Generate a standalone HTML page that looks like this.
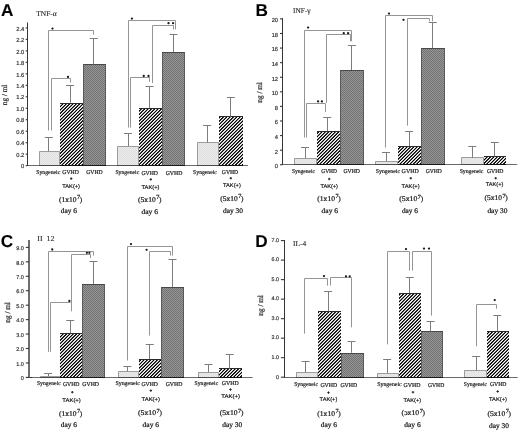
<!DOCTYPE html>
<html><head><meta charset="utf-8"><style>
html,body{margin:0;padding:0;background:#fff;}
body{width:520px;height:432px;overflow:hidden;}
svg{display:block;}
text{stroke:#333;stroke-width:0.12px;text-rendering:geometricPrecision;}
text.b{stroke:#111;stroke-width:0.22px;}
text.m{stroke:#222;stroke-width:0.2px;}
text.t{stroke:#333;stroke-width:0.18px;}
</style></head><body>
<svg width="520" height="432" viewBox="0 0 520 432" style="will-change:transform">
<defs>
<linearGradient id="pHat" gradientUnits="userSpaceOnUse" x1="0" y1="0" x2="2.36" y2="0" spreadMethod="repeat" gradientTransform="rotate(45)"><stop offset="0.0000" stop-color="#000000"/><stop offset="0.0625" stop-color="#000000"/><stop offset="0.1250" stop-color="#060606"/><stop offset="0.1875" stop-color="#3e3e3e"/><stop offset="0.2500" stop-color="#7f7f7f"/><stop offset="0.3125" stop-color="#c1c1c1"/><stop offset="0.3750" stop-color="#f9f9f9"/><stop offset="0.4375" stop-color="#ffffff"/><stop offset="0.5000" stop-color="#ffffff"/><stop offset="0.5625" stop-color="#ffffff"/><stop offset="0.6250" stop-color="#f9f9f9"/><stop offset="0.6875" stop-color="#c1c1c1"/><stop offset="0.7500" stop-color="#808080"/><stop offset="0.8125" stop-color="#3e3e3e"/><stop offset="0.8750" stop-color="#060606"/><stop offset="0.9375" stop-color="#000000"/><stop offset="1.0000" stop-color="#000000"/></linearGradient>
<filter id="fHat" x="0" y="0" width="1" height="1" color-interpolation-filters="sRGB"><feGaussianBlur stdDeviation="0.3"/><feComponentTransfer><feFuncR type="linear" slope="2.0" intercept="-0.5"/><feFuncG type="linear" slope="2.0" intercept="-0.5"/><feFuncB type="linear" slope="2.0" intercept="-0.5"/></feComponentTransfer></filter>
<pattern id="pGv" patternUnits="userSpaceOnUse" width="2" height="2"><rect width="2" height="2" fill="#969696"/><rect width="1" height="1" fill="#727272"/><rect x="1" y="1" width="1" height="1" fill="#727272"/></pattern>
<pattern id="pSyn" patternUnits="userSpaceOnUse" width="2" height="2"><rect width="2" height="2" fill="#ebebeb"/><rect width="1" height="1" fill="#dfdfdf"/><rect x="1" y="1" width="1" height="1" fill="#dfdfdf"/></pattern>
</defs>
<rect width="520" height="432" fill="#fff"/>
<line x1="27" y1="165.5" x2="248" y2="165.5" stroke="#6a6a6a" stroke-width="1"/>
<line x1="27.5" y1="22.5" x2="27.5" y2="166" stroke="#363636" stroke-width="1"/>
<line x1="25.65" y1="165.65" x2="27.25" y2="165.65" stroke="#363636" stroke-width="1.1"/>
<text class="t" x="24.3" y="168.35" font-size="5.8" font-family='"Liberation Sans", sans-serif' fill="#333" text-anchor="end">0</text>
<line x1="25.65" y1="154.17" x2="27.25" y2="154.17" stroke="#363636" stroke-width="1.1"/>
<text class="t" x="24.3" y="156.87" font-size="5.8" font-family='"Liberation Sans", sans-serif' fill="#333" text-anchor="end">0.2</text>
<line x1="25.65" y1="142.69" x2="27.25" y2="142.69" stroke="#363636" stroke-width="1.1"/>
<text class="t" x="24.3" y="145.39" font-size="5.8" font-family='"Liberation Sans", sans-serif' fill="#333" text-anchor="end">0.4</text>
<line x1="25.65" y1="131.21" x2="27.25" y2="131.21" stroke="#363636" stroke-width="1.1"/>
<text class="t" x="24.3" y="133.91" font-size="5.8" font-family='"Liberation Sans", sans-serif' fill="#333" text-anchor="end">0.6</text>
<line x1="25.65" y1="119.73" x2="27.25" y2="119.73" stroke="#363636" stroke-width="1.1"/>
<text class="t" x="24.3" y="122.43" font-size="5.8" font-family='"Liberation Sans", sans-serif' fill="#333" text-anchor="end">0.8</text>
<line x1="25.65" y1="108.25" x2="27.25" y2="108.25" stroke="#363636" stroke-width="1.1"/>
<text class="t" x="24.3" y="110.95" font-size="5.8" font-family='"Liberation Sans", sans-serif' fill="#333" text-anchor="end">1.0</text>
<line x1="25.65" y1="96.77" x2="27.25" y2="96.77" stroke="#363636" stroke-width="1.1"/>
<text class="t" x="24.3" y="99.47" font-size="5.8" font-family='"Liberation Sans", sans-serif' fill="#333" text-anchor="end">1.2</text>
<line x1="25.65" y1="85.3" x2="27.25" y2="85.3" stroke="#363636" stroke-width="1.1"/>
<text class="t" x="24.3" y="88" font-size="5.8" font-family='"Liberation Sans", sans-serif' fill="#333" text-anchor="end">1.4</text>
<line x1="25.65" y1="73.82" x2="27.25" y2="73.82" stroke="#363636" stroke-width="1.1"/>
<text class="t" x="24.3" y="76.52" font-size="5.8" font-family='"Liberation Sans", sans-serif' fill="#333" text-anchor="end">1.6</text>
<line x1="25.65" y1="62.34" x2="27.25" y2="62.34" stroke="#363636" stroke-width="1.1"/>
<text class="t" x="24.3" y="65.04" font-size="5.8" font-family='"Liberation Sans", sans-serif' fill="#333" text-anchor="end">1.8</text>
<line x1="25.65" y1="50.86" x2="27.25" y2="50.86" stroke="#363636" stroke-width="1.1"/>
<text class="t" x="24.3" y="53.56" font-size="5.8" font-family='"Liberation Sans", sans-serif' fill="#333" text-anchor="end">2.0</text>
<line x1="25.65" y1="39.38" x2="27.25" y2="39.38" stroke="#363636" stroke-width="1.1"/>
<text class="t" x="24.3" y="42.08" font-size="5.8" font-family='"Liberation Sans", sans-serif' fill="#333" text-anchor="end">2.2</text>
<line x1="25.65" y1="27.9" x2="27.25" y2="27.9" stroke="#363636" stroke-width="1.1"/>
<text class="t" x="24.3" y="30.6" font-size="5.8" font-family='"Liberation Sans", sans-serif' fill="#333" text-anchor="end">2.4</text>
<text x="0.9" y="16.4" font-size="17.2" font-family='"Liberation Sans", sans-serif' fill="#000" font-weight="bold">A</text>
<text x="36.3" y="16" font-size="7.4" font-family='"Liberation Serif", serif' fill="#1e1e1e" textLength="20.4" lengthAdjust="spacingAndGlyphs">TNF-&#945;</text>
<text class="m" x="0" y="0" font-size="7.6" font-family='"Liberation Serif", serif' fill="#1e1e1e" text-anchor="middle" transform="translate(7,94.9) rotate(-90)" textLength="20.5" lengthAdjust="spacingAndGlyphs">ng / ml</text>
<rect x="39" y="151" width="21" height="14" fill="url(#pSyn)"/>
<path d="M39.5 165 V151.5 H59.5 V165" fill="none" stroke="#9c9c9c" stroke-width="1"/>
<line x1="39" y1="165.5" x2="60" y2="165.5" stroke="#4a4a4a" stroke-width="1"/>
<rect x="60" y="103" width="23" height="62" fill="url(#pHat)"/>
<path d="M60 103.5 H83" fill="none" stroke="#2a2a2a" stroke-width="1"/>
<line x1="60" y1="165.5" x2="83" y2="165.5" stroke="#111" stroke-width="1"/>
<rect x="83" y="64" width="23" height="101" fill="url(#pGv)"/>
<path d="M83 64.5 H106" fill="none" stroke="#484848" stroke-width="1"/>
<path d="M83.5 165 V64.5 M105.5 64.5 V165" fill="none" stroke="#5a5a5a" stroke-width="1"/>
<line x1="83" y1="165.5" x2="106" y2="165.5" stroke="#1a1a1a" stroke-width="1"/>
<rect x="117" y="146" width="22" height="19" fill="url(#pSyn)"/>
<path d="M117.5 165 V146.5 H138.5 V165" fill="none" stroke="#9c9c9c" stroke-width="1"/>
<line x1="117" y1="165.5" x2="139" y2="165.5" stroke="#4a4a4a" stroke-width="1"/>
<rect x="139" y="108" width="23" height="57" fill="url(#pHat)"/>
<path d="M139 108.5 H162" fill="none" stroke="#2a2a2a" stroke-width="1"/>
<line x1="139" y1="165.5" x2="162" y2="165.5" stroke="#111" stroke-width="1"/>
<rect x="162" y="52" width="23" height="113" fill="url(#pGv)"/>
<path d="M162 52.5 H185" fill="none" stroke="#484848" stroke-width="1"/>
<path d="M162.5 165 V52.5 M184.5 52.5 V165" fill="none" stroke="#5a5a5a" stroke-width="1"/>
<line x1="162" y1="165.5" x2="185" y2="165.5" stroke="#1a1a1a" stroke-width="1"/>
<rect x="197" y="142" width="22" height="23" fill="url(#pSyn)"/>
<path d="M197.5 165 V142.5 H218.5 V165" fill="none" stroke="#9c9c9c" stroke-width="1"/>
<line x1="197" y1="165.5" x2="219" y2="165.5" stroke="#4a4a4a" stroke-width="1"/>
<rect x="219" y="116" width="24" height="49" fill="url(#pHat)"/>
<path d="M219 116.5 H243" fill="none" stroke="#2a2a2a" stroke-width="1"/>
<line x1="219" y1="165.5" x2="243" y2="165.5" stroke="#111" stroke-width="1"/>
<line x1="48.5" y1="137.5" x2="48.5" y2="151.1" stroke="#7c7c7c" stroke-width="1"/>
<line x1="44.75" y1="137.5" x2="52.75" y2="137.5" stroke="#7c7c7c" stroke-width="1"/>
<line x1="70.5" y1="85.6" x2="70.5" y2="102.75" stroke="#7c7c7c" stroke-width="1"/>
<line x1="66" y1="85.5" x2="74" y2="85.5" stroke="#7c7c7c" stroke-width="1"/>
<line x1="93.5" y1="38.5" x2="93.5" y2="64.4" stroke="#7c7c7c" stroke-width="1"/>
<line x1="89.75" y1="38.5" x2="97.75" y2="38.5" stroke="#7c7c7c" stroke-width="1"/>
<line x1="128.5" y1="133.1" x2="128.5" y2="146.25" stroke="#7c7c7c" stroke-width="1"/>
<line x1="124" y1="133.5" x2="132" y2="133.5" stroke="#7c7c7c" stroke-width="1"/>
<line x1="149.5" y1="86.25" x2="149.5" y2="108.1" stroke="#7c7c7c" stroke-width="1"/>
<line x1="145.6" y1="86.5" x2="153.6" y2="86.5" stroke="#7c7c7c" stroke-width="1"/>
<line x1="173.5" y1="34.4" x2="173.5" y2="52.25" stroke="#7c7c7c" stroke-width="1"/>
<line x1="169.5" y1="34.5" x2="177.5" y2="34.5" stroke="#7c7c7c" stroke-width="1"/>
<line x1="207.5" y1="125.25" x2="207.5" y2="142.5" stroke="#7c7c7c" stroke-width="1"/>
<line x1="203.1" y1="125.5" x2="211.1" y2="125.5" stroke="#7c7c7c" stroke-width="1"/>
<line x1="230.5" y1="97.1" x2="230.5" y2="116.6" stroke="#7c7c7c" stroke-width="1"/>
<line x1="226.9" y1="97.5" x2="234.9" y2="97.5" stroke="#7c7c7c" stroke-width="1"/>
<polyline points="48.5,130.5 48.5,30.5 93.5,30.5 93.5,34.6" fill="none" stroke="#959595" stroke-width="1"/>
<circle cx="52.5" cy="28.6" r="1.15" fill="#1a1a1a"/>
<polyline points="51.5,130.5 51.5,78.5 70.5,78.5 70.5,82.5" fill="none" stroke="#959595" stroke-width="1"/>
<circle cx="68" cy="76.9" r="1.15" fill="#1a1a1a"/>
<polyline points="128.5,127.5 128.5,20.5 175.5,20.5 175.5,29.4" fill="none" stroke="#959595" stroke-width="1"/>
<circle cx="131.9" cy="18.6" r="1.15" fill="#1a1a1a"/>
<polyline points="152.5,83 152.5,25.5 173.5,25.5 173.5,29.4" fill="none" stroke="#959595" stroke-width="1"/>
<circle cx="168.5" cy="23.2" r="1.15" fill="#1a1a1a"/>
<circle cx="173.1" cy="23.2" r="1.15" fill="#1a1a1a"/>
<polyline points="130.5,127.5 130.5,77.5 149.5,77.5 149.5,81.9" fill="none" stroke="#959595" stroke-width="1"/>
<circle cx="143.75" cy="76" r="1.15" fill="#1a1a1a"/>
<circle cx="148.5" cy="76" r="1.15" fill="#1a1a1a"/>
<text class="m" x="36.2" y="173.6" font-size="5.8" font-family='"Liberation Serif", serif' fill="#1e1e1e" textLength="24.1" lengthAdjust="spacingAndGlyphs">Syngeneic</text>
<text class="m" x="62.3" y="173.6" font-size="5.8" font-family='"Liberation Serif", serif' fill="#1e1e1e" textLength="16.6" lengthAdjust="spacingAndGlyphs">GVHD</text>
<text class="m" x="86.2" y="173.6" font-size="5.8" font-family='"Liberation Serif", serif' fill="#1e1e1e" textLength="16.4" lengthAdjust="spacingAndGlyphs">GVHD</text>
<line x1="70" y1="178.6" x2="72.4" y2="178.6" stroke="#222" stroke-width="1.0"/>
<line x1="71.2" y1="177.4" x2="71.2" y2="179.8" stroke="#222" stroke-width="1.0"/>
<text class="m" x="62.3" y="188.4" font-size="5.4" font-family='"Liberation Sans", sans-serif' fill="#1e1e1e" textLength="17.7" lengthAdjust="spacingAndGlyphs">TAK(+)</text>
<text class="b" x="58.9" y="201.6" font-size="7.3" font-family='"Liberation Serif", serif' fill="#1e1e1e" textLength="17.67" lengthAdjust="spacingAndGlyphs">(1x10</text>
<text class="b" x="77.07" y="198.7" font-size="6.2" font-family='"Liberation Serif", serif' fill="#1e1e1e">7</text>
<text class="b" x="79.85" y="201.6" font-size="7.3" font-family='"Liberation Serif", serif' fill="#1e1e1e">)</text>
<text class="b" x="60.8" y="213.2" font-size="7" font-family='"Liberation Serif", serif' fill="#1e1e1e" textLength="16.2" lengthAdjust="spacingAndGlyphs">day 6</text>
<text class="m" x="115.4" y="174" font-size="5.8" font-family='"Liberation Serif", serif' fill="#1e1e1e" textLength="23.8" lengthAdjust="spacingAndGlyphs">Syngeneic</text>
<text class="m" x="141.5" y="174.8" font-size="5.8" font-family='"Liberation Serif", serif' fill="#1e1e1e" textLength="16.5" lengthAdjust="spacingAndGlyphs">GVHD</text>
<text class="m" x="165.7" y="174.8" font-size="5.8" font-family='"Liberation Serif", serif' fill="#1e1e1e" textLength="16.6" lengthAdjust="spacingAndGlyphs">GVHD</text>
<line x1="149.6" y1="179.4" x2="152" y2="179.4" stroke="#222" stroke-width="1.0"/>
<line x1="150.8" y1="178.2" x2="150.8" y2="180.6" stroke="#222" stroke-width="1.0"/>
<text class="m" x="141.5" y="189.2" font-size="5.4" font-family='"Liberation Sans", sans-serif' fill="#1e1e1e" textLength="18" lengthAdjust="spacingAndGlyphs">TAK(+)</text>
<text class="b" x="138" y="202.2" font-size="7.3" font-family='"Liberation Serif", serif' fill="#1e1e1e" textLength="17.74" lengthAdjust="spacingAndGlyphs">(5x10</text>
<text class="b" x="156.24" y="199.3" font-size="6.2" font-family='"Liberation Serif", serif' fill="#1e1e1e">7</text>
<text class="b" x="159.05" y="202.2" font-size="7.3" font-family='"Liberation Serif", serif' fill="#1e1e1e">)</text>
<text class="b" x="141.5" y="213.6" font-size="7" font-family='"Liberation Serif", serif' fill="#1e1e1e" textLength="16.5" lengthAdjust="spacingAndGlyphs">day 6</text>
<text class="m" x="193.1" y="173.9" font-size="5.8" font-family='"Liberation Serif", serif' fill="#1e1e1e" textLength="23.8" lengthAdjust="spacingAndGlyphs">Syngeneic</text>
<text class="m" x="221.8" y="173.5" font-size="5.8" font-family='"Liberation Serif", serif' fill="#1e1e1e" textLength="16.4" lengthAdjust="spacingAndGlyphs">GVHD</text>
<line x1="229.6" y1="178.2" x2="232" y2="178.2" stroke="#222" stroke-width="1.0"/>
<line x1="230.8" y1="177" x2="230.8" y2="179.4" stroke="#222" stroke-width="1.0"/>
<text class="m" x="223" y="186.8" font-size="5.4" font-family='"Liberation Sans", sans-serif' fill="#1e1e1e" textLength="17.8" lengthAdjust="spacingAndGlyphs">TAK(+)</text>
<text class="b" x="220.3" y="201" font-size="7.3" font-family='"Liberation Serif", serif' fill="#1e1e1e" textLength="17.44" lengthAdjust="spacingAndGlyphs">(5x10</text>
<text class="b" x="238.24" y="198.1" font-size="6.2" font-family='"Liberation Serif", serif' fill="#1e1e1e">7</text>
<text class="b" x="240.95" y="201" font-size="7.3" font-family='"Liberation Serif", serif' fill="#1e1e1e">)</text>
<text class="b" x="223" y="213.2" font-size="7" font-family='"Liberation Serif", serif' fill="#1e1e1e" textLength="20" lengthAdjust="spacingAndGlyphs">day 30</text>
<line x1="282" y1="164.5" x2="517.2" y2="164.5" stroke="#6a6a6a" stroke-width="1"/>
<line x1="282.5" y1="18.1" x2="282.5" y2="165" stroke="#363636" stroke-width="1"/>
<line x1="280" y1="164.75" x2="282.3" y2="164.75" stroke="#363636" stroke-width="1.1"/>
<text class="t" x="278.1" y="168.15" font-size="5.8" font-family='"Liberation Sans", sans-serif' fill="#333" text-anchor="end">0</text>
<line x1="280" y1="150.16" x2="282.3" y2="150.16" stroke="#363636" stroke-width="1.1"/>
<text class="t" x="278.1" y="153.56" font-size="5.8" font-family='"Liberation Sans", sans-serif' fill="#333" text-anchor="end">2</text>
<line x1="280" y1="135.58" x2="282.3" y2="135.58" stroke="#363636" stroke-width="1.1"/>
<text class="t" x="278.1" y="138.98" font-size="5.8" font-family='"Liberation Sans", sans-serif' fill="#333" text-anchor="end">4</text>
<line x1="280" y1="121" x2="282.3" y2="121" stroke="#363636" stroke-width="1.1"/>
<text class="t" x="278.1" y="124.4" font-size="5.8" font-family='"Liberation Sans", sans-serif' fill="#333" text-anchor="end">6</text>
<line x1="280" y1="106.41" x2="282.3" y2="106.41" stroke="#363636" stroke-width="1.1"/>
<text class="t" x="278.1" y="109.81" font-size="5.8" font-family='"Liberation Sans", sans-serif' fill="#333" text-anchor="end">8</text>
<line x1="280" y1="91.83" x2="282.3" y2="91.83" stroke="#363636" stroke-width="1.1"/>
<text class="t" x="278.1" y="95.23" font-size="5.8" font-family='"Liberation Sans", sans-serif' fill="#333" text-anchor="end">10</text>
<line x1="280" y1="77.24" x2="282.3" y2="77.24" stroke="#363636" stroke-width="1.1"/>
<text class="t" x="278.1" y="80.64" font-size="5.8" font-family='"Liberation Sans", sans-serif' fill="#333" text-anchor="end">12</text>
<line x1="280" y1="62.66" x2="282.3" y2="62.66" stroke="#363636" stroke-width="1.1"/>
<text class="t" x="278.1" y="66.06" font-size="5.8" font-family='"Liberation Sans", sans-serif' fill="#333" text-anchor="end">14</text>
<line x1="280" y1="48.07" x2="282.3" y2="48.07" stroke="#363636" stroke-width="1.1"/>
<text class="t" x="278.1" y="51.47" font-size="5.8" font-family='"Liberation Sans", sans-serif' fill="#333" text-anchor="end">16</text>
<line x1="280" y1="33.49" x2="282.3" y2="33.49" stroke="#363636" stroke-width="1.1"/>
<text class="t" x="278.1" y="36.89" font-size="5.8" font-family='"Liberation Sans", sans-serif' fill="#333" text-anchor="end">18</text>
<line x1="280" y1="18.9" x2="282.3" y2="18.9" stroke="#363636" stroke-width="1.1"/>
<text class="t" x="278.1" y="22.3" font-size="5.8" font-family='"Liberation Sans", sans-serif' fill="#333" text-anchor="end">20</text>
<text x="255.6" y="16.3" font-size="17.2" font-family='"Liberation Sans", sans-serif' fill="#000" font-weight="bold">B</text>
<text x="293.1" y="13.4" font-size="7.4" font-family='"Liberation Serif", serif' fill="#1e1e1e" textLength="17.5" lengthAdjust="spacingAndGlyphs">INF-&#947;</text>
<text class="m" x="0" y="0" font-size="7.6" font-family='"Liberation Serif", serif' fill="#1e1e1e" text-anchor="middle" transform="translate(261.7,92.4) rotate(-90)" textLength="20.5" lengthAdjust="spacingAndGlyphs">ng / ml</text>
<rect x="294" y="158" width="23" height="6" fill="url(#pSyn)"/>
<path d="M294.5 164 V158.5 H316.5 V164" fill="none" stroke="#9c9c9c" stroke-width="1"/>
<line x1="294" y1="164.5" x2="317" y2="164.5" stroke="#4a4a4a" stroke-width="1"/>
<rect x="317" y="131" width="23" height="33" fill="url(#pHat)"/>
<path d="M317 131.5 H340" fill="none" stroke="#2a2a2a" stroke-width="1"/>
<line x1="317" y1="164.5" x2="340" y2="164.5" stroke="#111" stroke-width="1"/>
<rect x="340" y="70" width="24" height="94" fill="url(#pGv)"/>
<path d="M340 70.5 H364" fill="none" stroke="#484848" stroke-width="1"/>
<path d="M340.5 164 V70.5 M363.5 70.5 V164" fill="none" stroke="#5a5a5a" stroke-width="1"/>
<line x1="340" y1="164.5" x2="364" y2="164.5" stroke="#1a1a1a" stroke-width="1"/>
<rect x="375" y="161" width="23" height="3" fill="url(#pSyn)"/>
<path d="M375.5 164 V161.5 H397.5 V164" fill="none" stroke="#9c9c9c" stroke-width="1"/>
<line x1="375" y1="164.5" x2="398" y2="164.5" stroke="#4a4a4a" stroke-width="1"/>
<rect x="398" y="146" width="23" height="18" fill="url(#pHat)"/>
<path d="M398 146.5 H421" fill="none" stroke="#2a2a2a" stroke-width="1"/>
<line x1="398" y1="164.5" x2="421" y2="164.5" stroke="#111" stroke-width="1"/>
<rect x="421" y="48" width="24" height="116" fill="url(#pGv)"/>
<path d="M421 48.5 H445" fill="none" stroke="#484848" stroke-width="1"/>
<path d="M421.5 164 V48.5 M444.5 48.5 V164" fill="none" stroke="#5a5a5a" stroke-width="1"/>
<line x1="421" y1="164.5" x2="445" y2="164.5" stroke="#1a1a1a" stroke-width="1"/>
<rect x="461" y="157" width="23" height="7" fill="url(#pSyn)"/>
<path d="M461.5 164 V157.5 H483.5 V164" fill="none" stroke="#9c9c9c" stroke-width="1"/>
<line x1="461" y1="164.5" x2="484" y2="164.5" stroke="#4a4a4a" stroke-width="1"/>
<rect x="484" y="156" width="22" height="8" fill="url(#pHat)"/>
<path d="M484 156.5 H506" fill="none" stroke="#2a2a2a" stroke-width="1"/>
<line x1="484" y1="164.5" x2="506" y2="164.5" stroke="#111" stroke-width="1"/>
<line x1="305.5" y1="147.25" x2="305.5" y2="158.1" stroke="#7c7c7c" stroke-width="1"/>
<line x1="301" y1="147.5" x2="309" y2="147.5" stroke="#7c7c7c" stroke-width="1"/>
<line x1="327.5" y1="117.5" x2="327.5" y2="131.25" stroke="#7c7c7c" stroke-width="1"/>
<line x1="323.25" y1="117.5" x2="331.25" y2="117.5" stroke="#7c7c7c" stroke-width="1"/>
<line x1="351.5" y1="45.4" x2="351.5" y2="70" stroke="#7c7c7c" stroke-width="1"/>
<line x1="347.9" y1="45.5" x2="355.9" y2="45.5" stroke="#7c7c7c" stroke-width="1"/>
<line x1="386.5" y1="152.5" x2="386.5" y2="161.25" stroke="#7c7c7c" stroke-width="1"/>
<line x1="382" y1="152.5" x2="390" y2="152.5" stroke="#7c7c7c" stroke-width="1"/>
<line x1="409.5" y1="131.25" x2="409.5" y2="146.25" stroke="#7c7c7c" stroke-width="1"/>
<line x1="405.1" y1="131.5" x2="413.1" y2="131.5" stroke="#7c7c7c" stroke-width="1"/>
<line x1="432.5" y1="22.25" x2="432.5" y2="48.1" stroke="#7c7c7c" stroke-width="1"/>
<line x1="428.75" y1="22.5" x2="436.75" y2="22.5" stroke="#7c7c7c" stroke-width="1"/>
<line x1="472.5" y1="146" x2="472.5" y2="157.75" stroke="#7c7c7c" stroke-width="1"/>
<line x1="468.25" y1="146.5" x2="476.25" y2="146.5" stroke="#7c7c7c" stroke-width="1"/>
<line x1="494.5" y1="142.5" x2="494.5" y2="156.3" stroke="#7c7c7c" stroke-width="1"/>
<line x1="490.8" y1="142.5" x2="498.8" y2="142.5" stroke="#7c7c7c" stroke-width="1"/>
<polyline points="304.5,137.5 304.5,30.5 351.5,30.5 351.5,41.25" fill="none" stroke="#959595" stroke-width="1"/>
<circle cx="308.1" cy="27.6" r="1.15" fill="#1a1a1a"/>
<polyline points="326.5,103 326.5,34.5 350.5,34.5 350.5,41.25" fill="none" stroke="#959595" stroke-width="1"/>
<circle cx="343.75" cy="33.2" r="1.15" fill="#1a1a1a"/>
<circle cx="348.1" cy="33.2" r="1.15" fill="#1a1a1a"/>
<polyline points="306.5,137.5 306.5,103.5 325.5,103.5 325.5,111.9" fill="none" stroke="#959595" stroke-width="1"/>
<circle cx="318.1" cy="101.4" r="1.15" fill="#1a1a1a"/>
<circle cx="321.9" cy="101.4" r="1.15" fill="#1a1a1a"/>
<polyline points="385.5,147.5 385.5,15.5 432.5,15.5 432.5,21.25" fill="none" stroke="#959595" stroke-width="1"/>
<circle cx="389" cy="13.6" r="1.15" fill="#1a1a1a"/>
<polyline points="407.5,125.6 407.5,18.5 429.5,18.5 429.5,21.25" fill="none" stroke="#959595" stroke-width="1"/>
<circle cx="403.5" cy="19.8" r="1.15" fill="#1a1a1a"/>
<text class="m" x="291.9" y="173" font-size="5.8" font-family='"Liberation Serif", serif' fill="#1e1e1e" textLength="23.1" lengthAdjust="spacingAndGlyphs">Syngeneic</text>
<text class="m" x="321.2" y="173.4" font-size="5.8" font-family='"Liberation Serif", serif' fill="#1e1e1e" textLength="15.8" lengthAdjust="spacingAndGlyphs">GVHD</text>
<text class="m" x="343.5" y="173.4" font-size="5.8" font-family='"Liberation Serif", serif' fill="#1e1e1e" textLength="16.5" lengthAdjust="spacingAndGlyphs">GVHD</text>
<line x1="328" y1="179" x2="330.4" y2="179" stroke="#222" stroke-width="1.0"/>
<line x1="329.2" y1="177.8" x2="329.2" y2="180.2" stroke="#222" stroke-width="1.0"/>
<text class="m" x="320.4" y="188.2" font-size="5.4" font-family='"Liberation Sans", sans-serif' fill="#1e1e1e" textLength="17.6" lengthAdjust="spacingAndGlyphs">TAK(+)</text>
<text class="b" x="317.3" y="201" font-size="7.3" font-family='"Liberation Serif", serif' fill="#1e1e1e" textLength="17.67" lengthAdjust="spacingAndGlyphs">(1x10</text>
<text class="b" x="335.47" y="198.1" font-size="6.2" font-family='"Liberation Serif", serif' fill="#1e1e1e">7</text>
<text class="b" x="338.25" y="201" font-size="7.3" font-family='"Liberation Serif", serif' fill="#1e1e1e">)</text>
<text class="b" x="321.6" y="213.2" font-size="7" font-family='"Liberation Serif", serif' fill="#1e1e1e" textLength="16.4" lengthAdjust="spacingAndGlyphs">day 6</text>
<text class="m" x="375.8" y="173" font-size="5.8" font-family='"Liberation Serif", serif' fill="#1e1e1e" textLength="24.2" lengthAdjust="spacingAndGlyphs">Syngeneic</text>
<text class="m" x="401.6" y="173.4" font-size="5.8" font-family='"Liberation Serif", serif' fill="#1e1e1e" textLength="17.2" lengthAdjust="spacingAndGlyphs">GVHD</text>
<text class="m" x="425.8" y="173.4" font-size="5.8" font-family='"Liberation Serif", serif' fill="#1e1e1e" textLength="16.1" lengthAdjust="spacingAndGlyphs">GVHD</text>
<line x1="409.6" y1="178.2" x2="412" y2="178.2" stroke="#222" stroke-width="1.0"/>
<line x1="410.8" y1="177" x2="410.8" y2="179.4" stroke="#222" stroke-width="1.0"/>
<text class="m" x="401.6" y="188" font-size="5.4" font-family='"Liberation Sans", sans-serif' fill="#1e1e1e" textLength="18" lengthAdjust="spacingAndGlyphs">TAK(+)</text>
<text class="b" x="399.2" y="201.4" font-size="7.3" font-family='"Liberation Serif", serif' fill="#1e1e1e" textLength="18.12" lengthAdjust="spacingAndGlyphs">(5x10</text>
<text class="b" x="417.82" y="198.5" font-size="6.2" font-family='"Liberation Serif", serif' fill="#1e1e1e">7</text>
<text class="b" x="420.75" y="201.4" font-size="7.3" font-family='"Liberation Serif", serif' fill="#1e1e1e">)</text>
<text class="b" x="401.9" y="213.2" font-size="7" font-family='"Liberation Serif", serif' fill="#1e1e1e" textLength="16.1" lengthAdjust="spacingAndGlyphs">day 6</text>
<text class="m" x="459.7" y="173.2" font-size="5.8" font-family='"Liberation Serif", serif' fill="#1e1e1e" textLength="23.7" lengthAdjust="spacingAndGlyphs">Syngeneic</text>
<text class="m" x="486.9" y="173.2" font-size="5.8" font-family='"Liberation Serif", serif' fill="#1e1e1e" textLength="16.5" lengthAdjust="spacingAndGlyphs">GVHD</text>
<line x1="494.5" y1="178.2" x2="496.9" y2="178.2" stroke="#222" stroke-width="1.0"/>
<line x1="495.7" y1="177" x2="495.7" y2="179.4" stroke="#222" stroke-width="1.0"/>
<text class="m" x="485.8" y="186.3" font-size="5.4" font-family='"Liberation Sans", sans-serif' fill="#1e1e1e" textLength="17.6" lengthAdjust="spacingAndGlyphs">TAK(+)</text>
<text class="b" x="484.6" y="200.4" font-size="7.3" font-family='"Liberation Serif", serif' fill="#1e1e1e" textLength="17.44" lengthAdjust="spacingAndGlyphs">(5x10</text>
<text class="b" x="502.54" y="197.5" font-size="6.2" font-family='"Liberation Serif", serif' fill="#1e1e1e">7</text>
<text class="b" x="505.25" y="200.4" font-size="7.3" font-family='"Liberation Serif", serif' fill="#1e1e1e">)</text>
<text class="b" x="487.4" y="213.2" font-size="7" font-family='"Liberation Serif", serif' fill="#1e1e1e" textLength="20" lengthAdjust="spacingAndGlyphs">day 30</text>
<line x1="26" y1="377.5" x2="252.6" y2="377.5" stroke="#6a6a6a" stroke-width="1"/>
<line x1="26" y1="377.5" x2="32" y2="377.5" stroke="#363636" stroke-width="1"/>
<line x1="29" y1="240" x2="29" y2="377.5" stroke="#6e6e6e" stroke-width="2.0"/>
<line x1="25.8" y1="377.4" x2="29" y2="377.4" stroke="#363636" stroke-width="1.1"/>
<text class="t" x="23.8" y="380.1" font-size="5.5" font-family='"Liberation Sans", sans-serif' fill="#333" text-anchor="end">0</text>
<line x1="25.8" y1="362.96" x2="29" y2="362.96" stroke="#363636" stroke-width="1.1"/>
<text class="t" x="23.8" y="365.66" font-size="5.5" font-family='"Liberation Sans", sans-serif' fill="#333" text-anchor="end">1.0</text>
<line x1="25.8" y1="348.51" x2="29" y2="348.51" stroke="#363636" stroke-width="1.1"/>
<text class="t" x="23.8" y="351.21" font-size="5.5" font-family='"Liberation Sans", sans-serif' fill="#333" text-anchor="end">2.0</text>
<line x1="25.8" y1="334.07" x2="29" y2="334.07" stroke="#363636" stroke-width="1.1"/>
<text class="t" x="23.8" y="336.77" font-size="5.5" font-family='"Liberation Sans", sans-serif' fill="#333" text-anchor="end">3.0</text>
<line x1="25.8" y1="319.62" x2="29" y2="319.62" stroke="#363636" stroke-width="1.1"/>
<text class="t" x="23.8" y="322.32" font-size="5.5" font-family='"Liberation Sans", sans-serif' fill="#333" text-anchor="end">4.0</text>
<line x1="25.8" y1="305.18" x2="29" y2="305.18" stroke="#363636" stroke-width="1.1"/>
<text class="t" x="23.8" y="307.88" font-size="5.5" font-family='"Liberation Sans", sans-serif' fill="#333" text-anchor="end">5.0</text>
<line x1="25.8" y1="290.73" x2="29" y2="290.73" stroke="#363636" stroke-width="1.1"/>
<text class="t" x="23.8" y="293.43" font-size="5.5" font-family='"Liberation Sans", sans-serif' fill="#333" text-anchor="end">6.0</text>
<line x1="25.8" y1="276.29" x2="29" y2="276.29" stroke="#363636" stroke-width="1.1"/>
<text class="t" x="23.8" y="278.99" font-size="5.5" font-family='"Liberation Sans", sans-serif' fill="#333" text-anchor="end">7.0</text>
<line x1="25.8" y1="261.84" x2="29" y2="261.84" stroke="#363636" stroke-width="1.1"/>
<text class="t" x="23.8" y="264.54" font-size="5.5" font-family='"Liberation Sans", sans-serif' fill="#333" text-anchor="end">8.0</text>
<line x1="25.8" y1="247.4" x2="29" y2="247.4" stroke="#363636" stroke-width="1.1"/>
<text class="t" x="23.8" y="250.1" font-size="5.5" font-family='"Liberation Sans", sans-serif' fill="#333" text-anchor="end">9.0</text>
<text x="0.8" y="247.3" font-size="17.2" font-family='"Liberation Sans", sans-serif' fill="#000" font-weight="bold">C</text>
<text x="37.3" y="240.8" font-size="7.6" font-family='"Liberation Serif", serif' fill="#1e1e1e" textLength="17.1" lengthAdjust="spacingAndGlyphs">II&#160;&#160;12</text>
<text class="m" x="0" y="0" font-size="7.6" font-family='"Liberation Serif", serif' fill="#1e1e1e" text-anchor="middle" transform="translate(10.4,312.4) rotate(-90)" textLength="20.5" lengthAdjust="spacingAndGlyphs">ng / ml</text>
<rect x="40" y="376" width="20" height="1" fill="url(#pSyn)"/>
<path d="M40.5 377 V376.5 H59.5 V377" fill="none" stroke="#9c9c9c" stroke-width="1"/>
<line x1="40" y1="377.5" x2="60" y2="377.5" stroke="#4a4a4a" stroke-width="1"/>
<rect x="60" y="333" width="22" height="44" fill="url(#pHat)"/>
<path d="M60 333.5 H82" fill="none" stroke="#2a2a2a" stroke-width="1"/>
<line x1="60" y1="377.5" x2="82" y2="377.5" stroke="#111" stroke-width="1"/>
<rect x="82" y="284" width="23" height="93" fill="url(#pGv)"/>
<path d="M82 284.5 H105" fill="none" stroke="#484848" stroke-width="1"/>
<path d="M82.5 377 V284.5 M104.5 284.5 V377" fill="none" stroke="#5a5a5a" stroke-width="1"/>
<line x1="82" y1="377.5" x2="105" y2="377.5" stroke="#1a1a1a" stroke-width="1"/>
<rect x="118" y="371" width="21" height="6" fill="url(#pSyn)"/>
<path d="M118.5 377 V371.5 H138.5 V377" fill="none" stroke="#9c9c9c" stroke-width="1"/>
<line x1="118" y1="377.5" x2="139" y2="377.5" stroke="#4a4a4a" stroke-width="1"/>
<rect x="139" y="359" width="22" height="18" fill="url(#pHat)"/>
<path d="M139 359.5 H161" fill="none" stroke="#2a2a2a" stroke-width="1"/>
<line x1="139" y1="377.5" x2="161" y2="377.5" stroke="#111" stroke-width="1"/>
<rect x="161" y="287" width="23" height="90" fill="url(#pGv)"/>
<path d="M161 287.5 H184" fill="none" stroke="#484848" stroke-width="1"/>
<path d="M161.5 377 V287.5 M183.5 287.5 V377" fill="none" stroke="#5a5a5a" stroke-width="1"/>
<line x1="161" y1="377.5" x2="184" y2="377.5" stroke="#1a1a1a" stroke-width="1"/>
<rect x="198" y="372" width="21" height="5" fill="url(#pSyn)"/>
<path d="M198.5 377 V372.5 H218.5 V377" fill="none" stroke="#9c9c9c" stroke-width="1"/>
<line x1="198" y1="377.5" x2="219" y2="377.5" stroke="#4a4a4a" stroke-width="1"/>
<rect x="219" y="368" width="23" height="9" fill="url(#pHat)"/>
<path d="M219 368.5 H242" fill="none" stroke="#2a2a2a" stroke-width="1"/>
<line x1="219" y1="377.5" x2="242" y2="377.5" stroke="#111" stroke-width="1"/>
<line x1="48.5" y1="373.5" x2="48.5" y2="376" stroke="#7c7c7c" stroke-width="1"/>
<line x1="44.1" y1="373.5" x2="52.1" y2="373.5" stroke="#7c7c7c" stroke-width="1"/>
<line x1="70.5" y1="320.4" x2="70.5" y2="333.1" stroke="#7c7c7c" stroke-width="1"/>
<line x1="66.25" y1="320.5" x2="74.25" y2="320.5" stroke="#7c7c7c" stroke-width="1"/>
<line x1="93.5" y1="261.5" x2="93.5" y2="284" stroke="#7c7c7c" stroke-width="1"/>
<line x1="89.5" y1="261.5" x2="97.5" y2="261.5" stroke="#7c7c7c" stroke-width="1"/>
<line x1="127.5" y1="366.6" x2="127.5" y2="371.25" stroke="#7c7c7c" stroke-width="1"/>
<line x1="123.4" y1="366.5" x2="131.4" y2="366.5" stroke="#7c7c7c" stroke-width="1"/>
<line x1="149.5" y1="344.6" x2="149.5" y2="359" stroke="#7c7c7c" stroke-width="1"/>
<line x1="145.75" y1="344.5" x2="153.75" y2="344.5" stroke="#7c7c7c" stroke-width="1"/>
<line x1="172.5" y1="259.4" x2="172.5" y2="286.9" stroke="#7c7c7c" stroke-width="1"/>
<line x1="168.5" y1="259.5" x2="176.5" y2="259.5" stroke="#7c7c7c" stroke-width="1"/>
<line x1="208.5" y1="364.6" x2="208.5" y2="372.3" stroke="#7c7c7c" stroke-width="1"/>
<line x1="204.5" y1="364.5" x2="212.5" y2="364.5" stroke="#7c7c7c" stroke-width="1"/>
<line x1="229.5" y1="354.6" x2="229.5" y2="368.5" stroke="#7c7c7c" stroke-width="1"/>
<line x1="225.7" y1="354.5" x2="233.7" y2="354.5" stroke="#7c7c7c" stroke-width="1"/>
<polyline points="48.5,351.9 48.5,251.5 93.5,251.5 93.5,255.6" fill="none" stroke="#959595" stroke-width="1"/>
<circle cx="52.25" cy="249.5" r="1.15" fill="#1a1a1a"/>
<polyline points="71.5,311.25 71.5,254.5 90.5,254.5 90.5,258" fill="none" stroke="#959595" stroke-width="1"/>
<circle cx="86.9" cy="252.8" r="1.15" fill="#1a1a1a"/>
<circle cx="89.4" cy="252.8" r="1.15" fill="#1a1a1a"/>
<polyline points="50.5,351.9 50.5,302.5 70.5,302.5 70.5,302.25" fill="none" stroke="#959595" stroke-width="1"/>
<circle cx="69.4" cy="301" r="1.15" fill="#1a1a1a"/>
<polyline points="127.5,360.6 127.5,246.5 172.5,246.5 172.5,255.6" fill="none" stroke="#959595" stroke-width="1"/>
<circle cx="131" cy="244.1" r="1.15" fill="#1a1a1a"/>
<polyline points="149.5,335.6 149.5,251.5 170.5,251.5 170.5,255.6" fill="none" stroke="#959595" stroke-width="1"/>
<circle cx="146.6" cy="249.8" r="1.15" fill="#1a1a1a"/>
<text class="m" x="36.9" y="385.3" font-size="5.8" font-family='"Liberation Serif", serif' fill="#1e1e1e" textLength="23.9" lengthAdjust="spacingAndGlyphs">Syngeneic</text>
<text class="m" x="63" y="386.3" font-size="5.8" font-family='"Liberation Serif", serif' fill="#1e1e1e" textLength="16.5" lengthAdjust="spacingAndGlyphs">GVHD</text>
<text class="m" x="82.3" y="386.3" font-size="5.8" font-family='"Liberation Serif", serif' fill="#1e1e1e" textLength="16.7" lengthAdjust="spacingAndGlyphs">GVHD</text>
<line x1="71.1" y1="392.2" x2="73.5" y2="392.2" stroke="#222" stroke-width="1.0"/>
<line x1="72.3" y1="391" x2="72.3" y2="393.4" stroke="#222" stroke-width="1.0"/>
<text class="m" x="62.3" y="402.4" font-size="5.4" font-family='"Liberation Sans", sans-serif' fill="#1e1e1e" textLength="18.5" lengthAdjust="spacingAndGlyphs">TAK(+)</text>
<text class="b" x="58.9" y="415.6" font-size="7.3" font-family='"Liberation Serif", serif' fill="#1e1e1e" textLength="17.67" lengthAdjust="spacingAndGlyphs">(1x10</text>
<text class="b" x="77.07" y="412.7" font-size="6.2" font-family='"Liberation Serif", serif' fill="#1e1e1e">7</text>
<text class="b" x="79.85" y="415.6" font-size="7.3" font-family='"Liberation Serif", serif' fill="#1e1e1e">)</text>
<text class="b" x="60.8" y="427" font-size="7" font-family='"Liberation Serif", serif' fill="#1e1e1e" textLength="16.2" lengthAdjust="spacingAndGlyphs">day 6</text>
<text class="m" x="115.4" y="385.4" font-size="5.8" font-family='"Liberation Serif", serif' fill="#1e1e1e" textLength="24.6" lengthAdjust="spacingAndGlyphs">Syngeneic</text>
<text class="m" x="141.5" y="385.7" font-size="5.8" font-family='"Liberation Serif", serif' fill="#1e1e1e" textLength="16.5" lengthAdjust="spacingAndGlyphs">GVHD</text>
<text class="m" x="165.7" y="385.7" font-size="5.8" font-family='"Liberation Serif", serif' fill="#1e1e1e" textLength="16.6" lengthAdjust="spacingAndGlyphs">GVHD</text>
<line x1="149.6" y1="390.6" x2="152" y2="390.6" stroke="#222" stroke-width="1.0"/>
<line x1="150.8" y1="389.4" x2="150.8" y2="391.8" stroke="#222" stroke-width="1.0"/>
<text class="m" x="141.5" y="401" font-size="5.4" font-family='"Liberation Sans", sans-serif' fill="#1e1e1e" textLength="18.5" lengthAdjust="spacingAndGlyphs">TAK(+)</text>
<text class="b" x="138" y="415.4" font-size="7.3" font-family='"Liberation Serif", serif' fill="#1e1e1e" textLength="18.12" lengthAdjust="spacingAndGlyphs">(5x10</text>
<text class="b" x="156.62" y="412.5" font-size="6.2" font-family='"Liberation Serif", serif' fill="#1e1e1e">7</text>
<text class="b" x="159.55" y="415.4" font-size="7.3" font-family='"Liberation Serif", serif' fill="#1e1e1e">)</text>
<text class="b" x="142.6" y="426.8" font-size="7" font-family='"Liberation Serif", serif' fill="#1e1e1e" textLength="16.4" lengthAdjust="spacingAndGlyphs">day 6</text>
<text class="m" x="194.6" y="385.2" font-size="5.8" font-family='"Liberation Serif", serif' fill="#1e1e1e" textLength="23.6" lengthAdjust="spacingAndGlyphs">Syngeneic</text>
<text class="m" x="221.8" y="385.4" font-size="5.8" font-family='"Liberation Serif", serif' fill="#1e1e1e" textLength="17" lengthAdjust="spacingAndGlyphs">GVHD</text>
<line x1="229.3" y1="389.5" x2="231.7" y2="389.5" stroke="#222" stroke-width="1.0"/>
<line x1="230.5" y1="388.3" x2="230.5" y2="390.7" stroke="#222" stroke-width="1.0"/>
<text class="m" x="221.2" y="398" font-size="5.4" font-family='"Liberation Sans", sans-serif' fill="#1e1e1e" textLength="18.8" lengthAdjust="spacingAndGlyphs">TAK(+)</text>
<text class="b" x="219.7" y="415.4" font-size="7.3" font-family='"Liberation Serif", serif' fill="#1e1e1e" textLength="17.89" lengthAdjust="spacingAndGlyphs">(5x10</text>
<text class="b" x="238.09" y="412.5" font-size="6.2" font-family='"Liberation Serif", serif' fill="#1e1e1e">7</text>
<text class="b" x="240.95" y="415.4" font-size="7.3" font-family='"Liberation Serif", serif' fill="#1e1e1e">)</text>
<text class="b" x="222.3" y="427" font-size="7" font-family='"Liberation Serif", serif' fill="#1e1e1e" textLength="20" lengthAdjust="spacingAndGlyphs">day 30</text>
<line x1="284" y1="377.5" x2="517.7" y2="377.5" stroke="#6a6a6a" stroke-width="1"/>
<line x1="284.5" y1="240" x2="284.5" y2="378" stroke="#363636" stroke-width="1"/>
<line x1="280.9" y1="377.2" x2="284.1" y2="377.2" stroke="#363636" stroke-width="1.1"/>
<text class="t" x="278.9" y="378.5" font-size="5.3" font-family='"Liberation Sans", sans-serif' fill="#333" text-anchor="end">0</text>
<line x1="280.9" y1="357.69" x2="284.1" y2="357.69" stroke="#363636" stroke-width="1.1"/>
<text class="t" x="278.9" y="358.99" font-size="5.3" font-family='"Liberation Sans", sans-serif' fill="#333" text-anchor="end">1.0</text>
<line x1="280.9" y1="338.17" x2="284.1" y2="338.17" stroke="#363636" stroke-width="1.1"/>
<text class="t" x="278.9" y="339.47" font-size="5.3" font-family='"Liberation Sans", sans-serif' fill="#333" text-anchor="end">2.0</text>
<line x1="280.9" y1="318.66" x2="284.1" y2="318.66" stroke="#363636" stroke-width="1.1"/>
<text class="t" x="278.9" y="319.96" font-size="5.3" font-family='"Liberation Sans", sans-serif' fill="#333" text-anchor="end">3.0</text>
<line x1="280.9" y1="299.14" x2="284.1" y2="299.14" stroke="#363636" stroke-width="1.1"/>
<text class="t" x="278.9" y="300.44" font-size="5.3" font-family='"Liberation Sans", sans-serif' fill="#333" text-anchor="end">4.0</text>
<line x1="280.9" y1="279.63" x2="284.1" y2="279.63" stroke="#363636" stroke-width="1.1"/>
<text class="t" x="278.9" y="280.93" font-size="5.3" font-family='"Liberation Sans", sans-serif' fill="#333" text-anchor="end">5.0</text>
<line x1="280.9" y1="260.11" x2="284.1" y2="260.11" stroke="#363636" stroke-width="1.1"/>
<text class="t" x="278.9" y="261.41" font-size="5.3" font-family='"Liberation Sans", sans-serif' fill="#333" text-anchor="end">6.0</text>
<line x1="280.9" y1="240.6" x2="284.1" y2="240.6" stroke="#363636" stroke-width="1.1"/>
<text class="t" x="278.9" y="241.9" font-size="5.3" font-family='"Liberation Sans", sans-serif' fill="#333" text-anchor="end">7.0</text>
<text x="255.3" y="247" font-size="17.2" font-family='"Liberation Sans", sans-serif' fill="#000" font-weight="bold">D</text>
<text x="293.1" y="246.4" font-size="7.4" font-family='"Liberation Serif", serif' fill="#1e1e1e" textLength="13.2" lengthAdjust="spacingAndGlyphs">IL-4</text>
<text class="m" x="0" y="0" font-size="7.6" font-family='"Liberation Serif", serif' fill="#1e1e1e" text-anchor="middle" transform="translate(262.8,305.4) rotate(-90)" textLength="20.5" lengthAdjust="spacingAndGlyphs">ng / ml</text>
<rect x="296" y="372" width="22" height="5" fill="url(#pSyn)"/>
<path d="M296.5 377 V372.5 H317.5 V377" fill="none" stroke="#9c9c9c" stroke-width="1"/>
<line x1="296" y1="377.5" x2="318" y2="377.5" stroke="#4a4a4a" stroke-width="1"/>
<rect x="318" y="311" width="23" height="66" fill="url(#pHat)"/>
<path d="M318 311.5 H341" fill="none" stroke="#2a2a2a" stroke-width="1"/>
<line x1="318" y1="377.5" x2="341" y2="377.5" stroke="#111" stroke-width="1"/>
<rect x="341" y="353" width="23" height="24" fill="url(#pGv)"/>
<path d="M341 353.5 H364" fill="none" stroke="#484848" stroke-width="1"/>
<path d="M341.5 377 V353.5 M363.5 353.5 V377" fill="none" stroke="#5a5a5a" stroke-width="1"/>
<line x1="341" y1="377.5" x2="364" y2="377.5" stroke="#1a1a1a" stroke-width="1"/>
<rect x="377" y="373" width="22" height="4" fill="url(#pSyn)"/>
<path d="M377.5 377 V373.5 H398.5 V377" fill="none" stroke="#9c9c9c" stroke-width="1"/>
<line x1="377" y1="377.5" x2="399" y2="377.5" stroke="#4a4a4a" stroke-width="1"/>
<rect x="399" y="293" width="22" height="84" fill="url(#pHat)"/>
<path d="M399 293.5 H421" fill="none" stroke="#2a2a2a" stroke-width="1"/>
<line x1="399" y1="377.5" x2="421" y2="377.5" stroke="#111" stroke-width="1"/>
<rect x="421" y="331" width="22" height="46" fill="url(#pGv)"/>
<path d="M421 331.5 H443" fill="none" stroke="#484848" stroke-width="1"/>
<path d="M421.5 377 V331.5 M442.5 331.5 V377" fill="none" stroke="#5a5a5a" stroke-width="1"/>
<line x1="421" y1="377.5" x2="443" y2="377.5" stroke="#1a1a1a" stroke-width="1"/>
<rect x="464" y="370" width="23" height="7" fill="url(#pSyn)"/>
<path d="M464.5 377 V370.5 H486.5 V377" fill="none" stroke="#9c9c9c" stroke-width="1"/>
<line x1="464" y1="377.5" x2="487" y2="377.5" stroke="#4a4a4a" stroke-width="1"/>
<rect x="487" y="331" width="22" height="46" fill="url(#pHat)"/>
<path d="M487 331.5 H509" fill="none" stroke="#2a2a2a" stroke-width="1"/>
<line x1="487" y1="377.5" x2="509" y2="377.5" stroke="#111" stroke-width="1"/>
<line x1="305.5" y1="361.9" x2="305.5" y2="372.5" stroke="#7c7c7c" stroke-width="1"/>
<line x1="301.6" y1="361.5" x2="309.6" y2="361.5" stroke="#7c7c7c" stroke-width="1"/>
<line x1="328.5" y1="291.1" x2="328.5" y2="311.25" stroke="#7c7c7c" stroke-width="1"/>
<line x1="324.1" y1="291.5" x2="332.1" y2="291.5" stroke="#7c7c7c" stroke-width="1"/>
<line x1="351.5" y1="341.9" x2="351.5" y2="352.75" stroke="#7c7c7c" stroke-width="1"/>
<line x1="347.5" y1="341.5" x2="355.5" y2="341.5" stroke="#7c7c7c" stroke-width="1"/>
<line x1="387.5" y1="359.5" x2="387.5" y2="373.1" stroke="#7c7c7c" stroke-width="1"/>
<line x1="383.2" y1="359.5" x2="391.2" y2="359.5" stroke="#7c7c7c" stroke-width="1"/>
<line x1="409.5" y1="277.25" x2="409.5" y2="293.1" stroke="#7c7c7c" stroke-width="1"/>
<line x1="405.75" y1="277.5" x2="413.75" y2="277.5" stroke="#7c7c7c" stroke-width="1"/>
<line x1="430.5" y1="321" x2="430.5" y2="331.25" stroke="#7c7c7c" stroke-width="1"/>
<line x1="426.6" y1="321.5" x2="434.6" y2="321.5" stroke="#7c7c7c" stroke-width="1"/>
<line x1="476.5" y1="356.6" x2="476.5" y2="370.8" stroke="#7c7c7c" stroke-width="1"/>
<line x1="472.15" y1="356.5" x2="480.15" y2="356.5" stroke="#7c7c7c" stroke-width="1"/>
<line x1="497.5" y1="315.6" x2="497.5" y2="331.25" stroke="#7c7c7c" stroke-width="1"/>
<line x1="493.25" y1="315.5" x2="501.25" y2="315.5" stroke="#7c7c7c" stroke-width="1"/>
<polyline points="304.5,333.6 304.5,278.5 327.5,278.5 327.5,285.6" fill="none" stroke="#959595" stroke-width="1"/>
<circle cx="324" cy="276.1" r="1.15" fill="#1a1a1a"/>
<polyline points="330.5,285.6 330.5,277.5 351.5,277.5 351.5,327.25" fill="none" stroke="#959595" stroke-width="1"/>
<circle cx="346" cy="276.3" r="1.15" fill="#1a1a1a"/>
<circle cx="349.75" cy="276.3" r="1.15" fill="#1a1a1a"/>
<polyline points="387.5,344.4 387.5,251.5 409.5,251.5 409.5,270.6" fill="none" stroke="#959595" stroke-width="1"/>
<circle cx="406" cy="249.1" r="1.15" fill="#1a1a1a"/>
<polyline points="412.5,270.6 412.5,251.5 431.5,251.5 431.5,315.6" fill="none" stroke="#959595" stroke-width="1"/>
<circle cx="424" cy="248.6" r="1.15" fill="#1a1a1a"/>
<circle cx="429" cy="248.6" r="1.15" fill="#1a1a1a"/>
<polyline points="476.5,346.2 476.5,304.5 496.5,304.5 496.5,308.75" fill="none" stroke="#959595" stroke-width="1"/>
<circle cx="494.75" cy="300.1" r="1.15" fill="#1a1a1a"/>
<text class="m" x="294.2" y="386.3" font-size="5.8" font-family='"Liberation Serif", serif' fill="#1e1e1e" textLength="23.8" lengthAdjust="spacingAndGlyphs">Syngeneic</text>
<text class="m" x="320.4" y="387.3" font-size="5.8" font-family='"Liberation Serif", serif' fill="#1e1e1e" textLength="16.9" lengthAdjust="spacingAndGlyphs">GVHD</text>
<text class="m" x="340.4" y="387.3" font-size="5.8" font-family='"Liberation Serif", serif' fill="#1e1e1e" textLength="16.9" lengthAdjust="spacingAndGlyphs">GVHD</text>
<line x1="327.3" y1="392.6" x2="329.7" y2="392.6" stroke="#222" stroke-width="1.0"/>
<line x1="328.5" y1="391.4" x2="328.5" y2="393.8" stroke="#222" stroke-width="1.0"/>
<text class="m" x="319.6" y="400.8" font-size="5.4" font-family='"Liberation Sans", sans-serif' fill="#1e1e1e" textLength="17.7" lengthAdjust="spacingAndGlyphs">TAK(+)</text>
<text class="b" x="317.3" y="416" font-size="7.3" font-family='"Liberation Serif", serif' fill="#1e1e1e" textLength="17.67" lengthAdjust="spacingAndGlyphs">(1x10</text>
<text class="b" x="335.47" y="413.1" font-size="6.2" font-family='"Liberation Serif", serif' fill="#1e1e1e">7</text>
<text class="b" x="338.25" y="416" font-size="7.3" font-family='"Liberation Serif", serif' fill="#1e1e1e">)</text>
<text class="b" x="320.7" y="427" font-size="7" font-family='"Liberation Serif", serif' fill="#1e1e1e" textLength="16.3" lengthAdjust="spacingAndGlyphs">day 6</text>
<text class="m" x="377.3" y="386.3" font-size="5.8" font-family='"Liberation Serif", serif' fill="#1e1e1e" textLength="24.3" lengthAdjust="spacingAndGlyphs">Syngeneic</text>
<text class="m" x="403.5" y="387.3" font-size="5.8" font-family='"Liberation Serif", serif' fill="#1e1e1e" textLength="16.9" lengthAdjust="spacingAndGlyphs">GVHD</text>
<text class="m" x="428" y="387.3" font-size="5.8" font-family='"Liberation Serif", serif' fill="#1e1e1e" textLength="16.2" lengthAdjust="spacingAndGlyphs">GVHD</text>
<line x1="411.8" y1="392.2" x2="414.2" y2="392.2" stroke="#222" stroke-width="1.0"/>
<line x1="413" y1="391" x2="413" y2="393.4" stroke="#222" stroke-width="1.0"/>
<text class="m" x="403.5" y="402.1" font-size="5.4" font-family='"Liberation Sans", sans-serif' fill="#1e1e1e" textLength="17.7" lengthAdjust="spacingAndGlyphs">TAK(+)</text>
<text class="b" x="401.6" y="415.4" font-size="7.3" font-family='"Liberation Serif", serif' fill="#1e1e1e" textLength="17.67" lengthAdjust="spacingAndGlyphs">(&#596;x10</text>
<text class="b" x="419.77" y="412.5" font-size="6.2" font-family='"Liberation Serif", serif' fill="#1e1e1e">7</text>
<text class="b" x="422.55" y="415.4" font-size="7.3" font-family='"Liberation Serif", serif' fill="#1e1e1e">)</text>
<text class="b" x="404.2" y="427" font-size="7" font-family='"Liberation Serif", serif' fill="#1e1e1e" textLength="16.5" lengthAdjust="spacingAndGlyphs">day 6</text>
<text class="m" x="463.85" y="386.3" font-size="5.8" font-family='"Liberation Serif", serif' fill="#1e1e1e" textLength="23.15" lengthAdjust="spacingAndGlyphs">Syngeneic</text>
<text class="m" x="490" y="386.3" font-size="5.8" font-family='"Liberation Serif", serif' fill="#1e1e1e" textLength="16.5" lengthAdjust="spacingAndGlyphs">GVHD</text>
<line x1="496.5" y1="391.5" x2="498.9" y2="391.5" stroke="#222" stroke-width="1.0"/>
<line x1="497.7" y1="390.3" x2="497.7" y2="392.7" stroke="#222" stroke-width="1.0"/>
<text class="m" x="489" y="400.8" font-size="5.4" font-family='"Liberation Sans", sans-serif' fill="#1e1e1e" textLength="18" lengthAdjust="spacingAndGlyphs">TAK(+)</text>
<text class="b" x="487.4" y="416.2" font-size="7.3" font-family='"Liberation Serif", serif' fill="#1e1e1e" textLength="17.82" lengthAdjust="spacingAndGlyphs">(5x10</text>
<text class="b" x="505.72" y="413.3" font-size="6.2" font-family='"Liberation Serif", serif' fill="#1e1e1e">7</text>
<text class="b" x="508.55" y="416.2" font-size="7.3" font-family='"Liberation Serif", serif' fill="#1e1e1e">)</text>
<text class="b" x="489" y="427.8" font-size="7" font-family='"Liberation Serif", serif' fill="#1e1e1e" textLength="20" lengthAdjust="spacingAndGlyphs">day 30</text>
</svg>
</body></html>
